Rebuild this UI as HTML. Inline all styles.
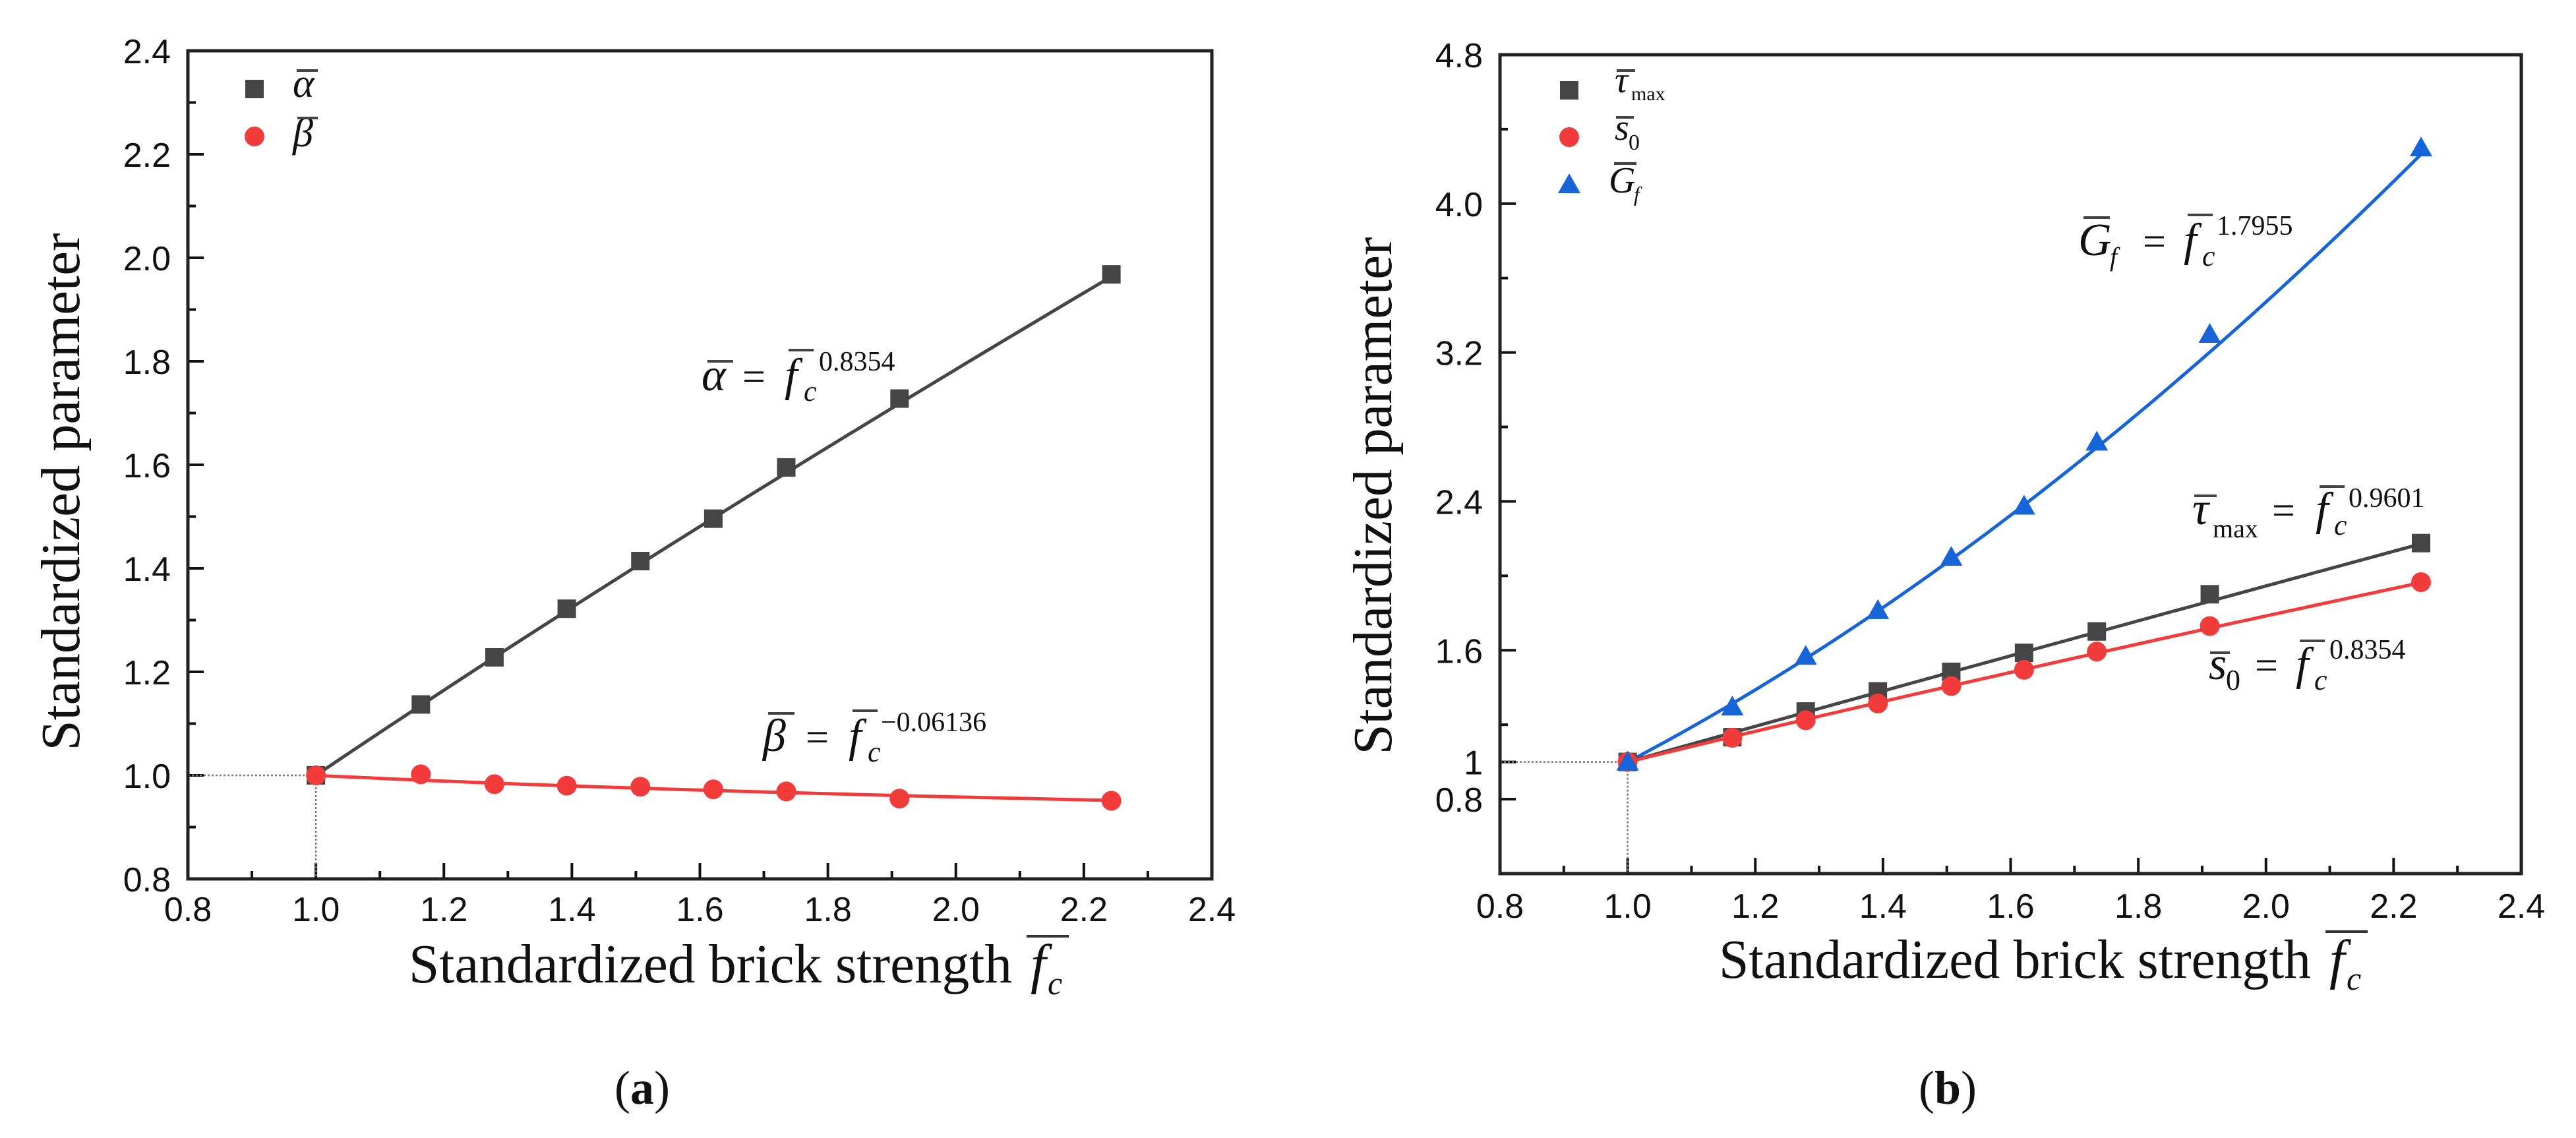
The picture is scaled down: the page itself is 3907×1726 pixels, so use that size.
<!DOCTYPE html>
<html><head><meta charset="utf-8">
<style>
html,body{margin:0;padding:0;background:#fff;}
svg{display:block;}
.tk{font-family:"Liberation Sans",Arial,sans-serif;font-size:52px;fill:#111;}
.ttl{font-family:"Liberation Serif","Times New Roman",serif;font-size:84px;fill:#111;}
.eq{font-family:"Liberation Serif","Times New Roman",serif;fill:#111;}
.it{font-style:italic;}
</style></head>
<body>
<svg id="fig" width="3907" height="1726" viewBox="0 0 3907 1726" xmlns="http://www.w3.org/2000/svg">
<rect x="0" y="0" width="3907" height="1726" fill="#fff"/>
<g id="panelA"></g>
<g id="panelB"></g>
</svg>
<script>
// ---- data ----
const xVals = [1.0, 1.164, 1.279, 1.392, 1.507, 1.621, 1.735, 1.912, 2.243];
const alphaVals = [1.0, 1.137, 1.228, 1.322, 1.414, 1.496, 1.595, 1.728, 1.968];
const betaVals = [1.0, 1.002, 0.983, 0.980, 0.978, 0.973, 0.969, 0.955, 0.951];
const tauVals = [1.0, 1.133, 1.271, 1.379, 1.484, 1.586, 1.701, 1.901, 2.176];
const s0Vals = [1.0, 1.130, 1.224, 1.314, 1.408, 1.495, 1.593, 1.730, 1.966];
const gfVals = [1.0, 1.296, 1.568, 1.814, 2.100, 2.375, 2.719, 3.298, 4.300];
const alphaExp = 0.8354;
const betaExp = -0.06136;
const tauExp = 0.9601;
const s0Exp = 0.8354;
const gfExp = 1.7955;
const xTickVals = [0.8, 1.0, 1.2, 1.4, 1.6, 1.8, 2.0, 2.2, 2.4];
const xTickLabels = ['0.8', '1.0', '1.2', '1.4', '1.6', '1.8', '2.0', '2.2', '2.4'];
const aYTickVals = [0.8, 1.0, 1.2, 1.4, 1.6, 1.8, 2.0, 2.2, 2.4];
const aYTickLabels = ['0.8', '1.0', '1.2', '1.4', '1.6', '1.8', '2.0', '2.2', '2.4'];
const bYTickVals = [0.8, 1.0, 1.6, 2.4, 3.2, 4.0, 4.8];
const bYTickLabels = ['0.8', '1', '1.6', '2.4', '3.2', '4.0', '4.8'];
const bYMinorVals = [0.4, 1.2, 2.0, 2.8, 3.6, 4.4];

const NS = 'http://www.w3.org/2000/svg';
function mk(parent, tag, attrs, text) {
  const e = document.createElementNS(NS, tag);
  for (const k in attrs) e.setAttribute(k, attrs[k]);
  if (text !== undefined) e.textContent = text;
  parent.appendChild(e);
  return e;
}
const GRAY = '#454545', RED = '#f23b3b', BLUE = '#1764d9';

function axes(g, P) {
  const sx = v => P.x0 + (v - P.xmin) / (P.xmax - P.xmin) * (P.x1 - P.x0);
  const sy = v => P.y1 - (v - P.ymin) / (P.ymax - P.ymin) * (P.y1 - P.y0);
  xTickVals.forEach((v, i) => {
    const t = mk(g, 'line', {x1: sx(v), x2: sx(v), y1: P.y1, y2: P.y1 - 24, stroke: '#111', 'stroke-width': 4});
    
    
    if (i < xTickVals.length - 1) {
      const mv = v + 0.1;
      const m = mk(g, 'line', {x1: sx(mv), x2: sx(mv), y1: P.y1, y2: P.y1 - 12, stroke: '#111', 'stroke-width': 4});
      
      
    }
    const l = mk(g, 'text', {x: sx(v), y: P.xLabelY, 'text-anchor': 'middle', class: 'tk'}, xTickLabels[i]);
    
    
  });
  P.yTicks.forEach((v, i) => {
    const t = mk(g, 'line', {x1: P.x0, x2: P.x0 + 24, y1: sy(v), y2: sy(v), stroke: '#111', 'stroke-width': 4});
    
    
    const l = mk(g, 'text', {x: P.x0 - 26, y: sy(v) + 19, 'text-anchor': 'end', class: 'tk'}, P.yLabels[i]);
    
    
  });
  P.yMinor.forEach(v => {
    const m = mk(g, 'line', {x1: P.x0, x2: P.x0 + 12, y1: sy(v), y2: sy(v), stroke: '#111', 'stroke-width': 4});
    
    
  });
  const d1 = mk(g, 'line', {x1: P.x0, x2: sx(1), y1: sy(1), y2: sy(1), stroke: '#777', 'stroke-width': 2.5, 'stroke-dasharray': '3,3'});
  
  
  const d2 = mk(g, 'line', {x1: sx(1), x2: sx(1), y1: sy(1), y2: P.y1, stroke: '#777', 'stroke-width': 2.5, 'stroke-dasharray': '3,3'});
  
  
  const fr = mk(g, 'rect', {x: P.x0, y: P.y0, width: P.x1 - P.x0, height: P.y1 - P.y0, fill: 'none', stroke: '#222', 'stroke-width': 5});
  
  
  const yt = mk(g, 'text', {x: 0, y: 0, 'text-anchor': 'middle', class: 'ttl', textLength: 785, lengthAdjust: 'spacingAndGlyphs', transform: `translate(${P.ytX},${P.ytY}) rotate(-90)`}, 'Standardized parameter');
  
  
  const xt = mk(g, 'text', {x: P.xtX, y: P.xtY, class: 'ttl', textLength: P.xtW, lengthAdjust: 'spacingAndGlyphs'}, 'Standardized brick strength');
  
  
  const fx = P.xtX + P.xtW + 28;
  mk(g, 'text', {x: fx, y: P.xtY, class: 'ttl it'}, 'f');
  mk(g, 'text', {x: fx + 26, y: P.xtY + 18, class: 'eq it', 'font-size': 50}, 'c');
  mk(g, 'line', {x1: fx - 6, x2: fx + 58, y1: P.xtY - 70, y2: P.xtY - 70, stroke: '#333', 'stroke-width': 4});
  const cap = mk(g, 'text', {x: P.capX, y: 1674, 'text-anchor': 'middle', class: 'eq', 'font-size': 72}, '');
  mk(cap, 'tspan', {}, '(');
  mk(cap, 'tspan', {'font-weight': 'bold'}, P.cap);
  mk(cap, 'tspan', {}, ')');
  
  
  return {sx, sy};
}

function fitLine(g, S, exp, color, name) {
  let d = '';
  const x0 = xVals[0], x1 = xVals[xVals.length - 1];
  for (let i = 0; i <= 60; i++) {
    const x = x0 + (x1 - x0) * i / 60;
    d += (i ? 'L' : 'M') + S.sx(x).toFixed(1) + ',' + S.sy(Math.pow(x, exp)).toFixed(1);
  }
  const p = mk(g, 'path', {d, fill: 'none', stroke: color, 'stroke-width': 5});
  
  
}
function marker(g, shape, cx, cy, color) {
  if (shape === 'sq') return mk(g, 'rect', {x: cx - 14, y: cy - 14, width: 28, height: 28, fill: color});
  if (shape === 'ci') return mk(g, 'circle', {cx, cy, r: 15, fill: color});
  return mk(g, 'polygon', {points: `${cx},${cy - 17} ${cx - 17},${cy + 13} ${cx + 17},${cy + 13}`, fill: color});
}
function series(g, S, vals, shape, color, name) {
  vals.forEach((v, i) => {
    const m = marker(g, shape, S.sx(xVals[i]), S.sy(v), color);
    
    
  });
}
function bar(g, x1, x2, y) { mk(g, 'line', {x1, x2, y1: y, y2: y, stroke: '#444', 'stroke-width': 4}); }

// ---- Panel A ----
(function () {
  const g = document.getElementById('panelA');
  const S = axes(g, {x0: 285, x1: 1838, y0: 77, y1: 1333, xmin: 0.8, xmax: 2.4, ymin: 0.8, ymax: 2.4,
    yTicks: aYTickVals, yLabels: aYTickLabels, yMinor: [0.9, 1.1, 1.3, 1.5, 1.7, 1.9, 2.1, 2.3],
    xLabelY: 1397, ytX: 120, ytY: 746, xtX: 620, xtW: 915, xtY: 1490, capX: 974, cap: 'a'});
  fitLine(g, S, alphaExp, GRAY, 'alpha-fit-line');
  fitLine(g, S, betaExp, RED, 'beta-fit-line');
  series(g, S, alphaVals, 'sq', GRAY, 'alpha-point');
  series(g, S, betaVals, 'ci', RED, 'beta-point');
  const lg = mk(g, 'g', {});
  
  
  marker(lg, 'sq', 386, 135, GRAY);
  mk(lg, 'text', {x: 444, y: 147, class: 'eq it', 'font-size': 62}, 'α');
  bar(lg, 450, 482, 107);
  marker(lg, 'ci', 386, 207, RED);
  mk(lg, 'text', {x: 444, y: 222, class: 'eq it', 'font-size': 62}, 'β');
  bar(lg, 451, 482, 179);
  const e1 = mk(g, 'g', {});
  
  
  mk(e1, 'text', {x: 1064, y: 592, class: 'eq it', 'font-size': 70}, 'α');
  bar(e1, 1073, 1112, 548);
  mk(e1, 'text', {x: 1126, y: 592, class: 'eq', 'font-size': 62}, '=');
  mk(e1, 'text', {x: 1190, y: 592, class: 'eq it', 'font-size': 70}, 'f');
  mk(e1, 'text', {x: 1219, y: 608, class: 'eq it', 'font-size': 44}, 'c');
  bar(e1, 1196, 1234, 531);
  mk(e1, 'text', {x: 1242, y: 562, class: 'eq', 'font-size': 42}, '0.8354');
  const e2 = mk(g, 'g', {});
  
  
  mk(e2, 'text', {x: 1157, y: 1139, class: 'eq it', 'font-size': 70}, 'β');
  bar(e2, 1165, 1205, 1082);
  mk(e2, 'text', {x: 1222, y: 1139, class: 'eq', 'font-size': 62}, '=');
  mk(e2, 'text', {x: 1287, y: 1139, class: 'eq it', 'font-size': 70}, 'f');
  mk(e2, 'text', {x: 1316, y: 1155, class: 'eq it', 'font-size': 44}, 'c');
  bar(e2, 1293, 1331, 1078);
  mk(e2, 'text', {x: 1336, y: 1109, class: 'eq', 'font-size': 42}, '−0.06136');
})();

// ---- Panel B ----
(function () {
  const g = document.getElementById('panelB');
  const S = axes(g, {x0: 2275, x1: 3824, y0: 83, y1: 1325, xmin: 0.8, xmax: 2.4, ymin: 0.4, ymax: 4.8,
    yTicks: bYTickVals, yLabels: bYTickLabels, yMinor: bYMinorVals,
    xLabelY: 1392, ytX: 2110, ytY: 752, xtX: 2607, xtW: 898, xtY: 1483, capX: 2954, cap: 'b'});
  fitLine(g, S, gfExp, BLUE, 'gf-fit-line');
  fitLine(g, S, tauExp, GRAY, 'tau-fit-line');
  fitLine(g, S, s0Exp, RED, 's0-fit-line');
  series(g, S, tauVals, 'sq', GRAY, 'tau-point');
  series(g, S, s0Vals, 'ci', RED, 's0-point');
  series(g, S, gfVals, 'tr', BLUE, 'gf-point');
  const lg = mk(g, 'g', {});
  
  
  marker(lg, 'sq', 2380, 137, GRAY);
  mk(lg, 'text', {x: 2449, y: 140, class: 'eq it', 'font-size': 56}, 'τ');
  mk(lg, 'text', {x: 2474, y: 152, class: 'eq', 'font-size': 30}, 'max');
  bar(lg, 2452, 2480, 107);
  marker(lg, 'ci', 2380, 208, RED);
  mk(lg, 'text', {x: 2449, y: 212, class: 'eq it', 'font-size': 56}, 's');
  mk(lg, 'text', {x: 2470, y: 227, class: 'eq', 'font-size': 34}, '0');
  bar(lg, 2451, 2478, 178);
  marker(lg, 'tr', 2380, 280, BLUE);
  mk(lg, 'text', {x: 2440, y: 292, class: 'eq it', 'font-size': 56}, 'G');
  mk(lg, 'text', {x: 2478, y: 305, class: 'eq it', 'font-size': 32}, 'f');
  bar(lg, 2448, 2482, 248);
  const e1 = mk(g, 'g', {});
  
  
  mk(e1, 'text', {x: 3152, y: 387, class: 'eq it', 'font-size': 70}, 'G');
  mk(e1, 'text', {x: 3200, y: 403, class: 'eq it', 'font-size': 40}, 'f');
  bar(e1, 3160, 3200, 330);
  mk(e1, 'text', {x: 3250, y: 387, class: 'eq', 'font-size': 62}, '=');
  mk(e1, 'text', {x: 3312, y: 387, class: 'eq it', 'font-size': 70}, 'f');
  mk(e1, 'text', {x: 3340, y: 403, class: 'eq it', 'font-size': 44}, 'c');
  bar(e1, 3318, 3356, 326);
  mk(e1, 'text', {x: 3362, y: 356, class: 'eq', 'font-size': 42}, '1.7955');
  const e2 = mk(g, 'g', {});
  
  
  mk(e2, 'text', {x: 3325, y: 795, class: 'eq it', 'font-size': 70}, 'τ');
  mk(e2, 'text', {x: 3356, y: 815, class: 'eq', 'font-size': 40}, 'max');
  bar(e2, 3328, 3362, 752);
  mk(e2, 'text', {x: 3446, y: 795, class: 'eq', 'font-size': 62}, '=');
  mk(e2, 'text', {x: 3512, y: 795, class: 'eq it', 'font-size': 70}, 'f');
  mk(e2, 'text', {x: 3540, y: 811, class: 'eq it', 'font-size': 44}, 'c');
  bar(e2, 3518, 3556, 738);
  mk(e2, 'text', {x: 3562, y: 769, class: 'eq', 'font-size': 42}, '0.9601');
  const e3 = mk(g, 'g', {});
  
  
  mk(e3, 'text', {x: 3350, y: 1030, class: 'eq it', 'font-size': 70}, 's');
  mk(e3, 'text', {x: 3376, y: 1046, class: 'eq', 'font-size': 44}, '0');
  bar(e3, 3352, 3382, 990);
  mk(e3, 'text', {x: 3420, y: 1030, class: 'eq', 'font-size': 62}, '=');
  mk(e3, 'text', {x: 3482, y: 1030, class: 'eq it', 'font-size': 70}, 'f');
  mk(e3, 'text', {x: 3510, y: 1046, class: 'eq it', 'font-size': 44}, 'c');
  bar(e3, 3488, 3526, 972);
  mk(e3, 'text', {x: 3533, y: 999, class: 'eq', 'font-size': 42}, '0.8354');
})();
</script>
</body></html>
